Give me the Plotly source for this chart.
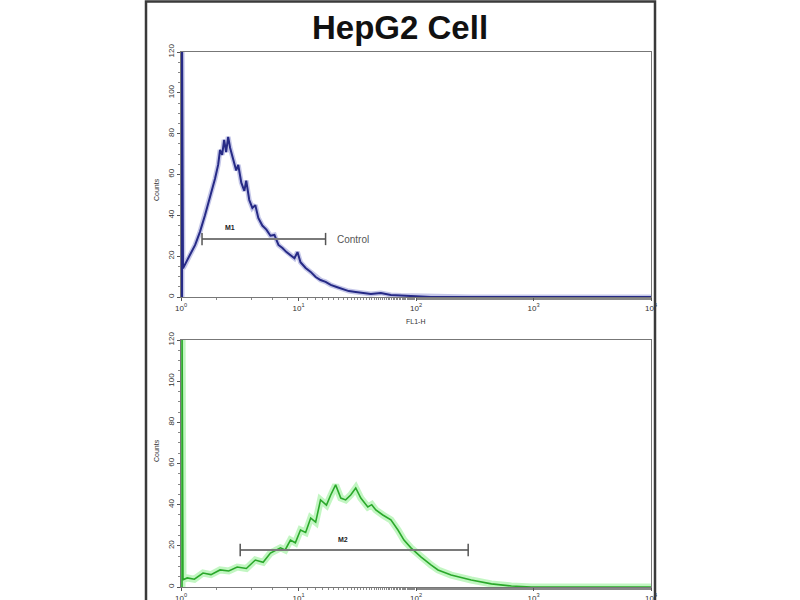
import math
import plotly.graph_objects as go

# ---------------- data ----------------
title_text = "HepG2 Cell"

# Control (top, blue) histogram: FL1-H intensity vs counts
top_x = [1.02, 1.02, 1.04, 1.08, 1.19, 1.32, 1.45, 1.60, 1.77, 1.95, 2.07, 2.15, 2.24, 2.33, 2.42,
         2.52, 2.62, 2.78, 2.95, 3.07, 3.26, 3.46, 3.59, 3.81, 4.05, 4.29, 4.55, 4.92,
         5.33, 5.77, 6.24, 6.75, 7.30, 7.90, 8.54, 9.24, 9.80, 10.4, 11.5, 12.7, 14.0,
         15.4, 17.0, 18.8, 21.1, 23.8, 26.8, 30.7, 35.2, 41.3, 50.2, 61.1, 74.4, 100,
         134, 295, 1426, 10000]
top_counts = [0, 130, 14, 15.7, 20.6, 25.5, 31.9, 40, 49, 58, 64.7, 72, 69.6, 77, 71,
              78.4, 73, 67, 62, 64.7, 56, 52, 57, 47.5, 43.6, 45, 38.7, 35,
              33, 30, 30.4, 25.5, 24, 22, 20.6, 19, 22, 17, 14.2, 12.3, 9.8,
              8.3, 7.4, 5.9, 4.9, 3.9, 2.9, 2.5, 2.0, 1.5, 2.0, 1.0, 0.7, 0.5,
              0, 0, 0, 0]

# Stained (bottom, green) histogram
bottom_x = [1.02, 1.02, 1.04, 1.13, 1.30, 1.54, 1.80, 2.15, 2.55, 3.01, 3.60, 4.29, 5.00, 5.77,
            7.02, 7.70, 8.54, 9.40, 10.4, 11.5, 12.7, 14.0, 15.4, 17.3, 18.8, 20.7, 22.9,
            25.2, 27.8, 30.7, 33.9, 38.9, 42.0, 45.5, 52.2, 61.1, 70.2, 79.0, 90.6,
            110, 134, 154, 199, 295, 438, 649, 961, 10000]
bottom_counts = [0, 130, 3.5, 4.4, 3.8, 6.8, 6.0, 8.3, 7.8, 9.7, 9.0, 13.1, 12.0, 16.5,
                 19, 18, 22.8, 21.5, 27.7, 26.5, 33.5, 31.5, 42.3, 39.8, 44.7, 49.6, 43.2,
                 42.3, 44.7, 48.1, 43.2, 38.9, 40.0, 37.4, 35, 32.6, 27.7, 22.8, 19,
                 14.6, 10.7, 8.3, 5.8, 3.4, 1.5, 0.5, 0, 0]

# Marker gates
m1_range = [1.51, 17.0]
m1_level = 28.4
m2_range = [3.19, 278]
m2_level = 18.0

y_ticks = [0, 20, 40, 60, 80, 100, 120]
x_ticks = [1, 10, 100, 1000, 10000]
x_ticktext = ["10<sup>0</sup>", "10<sup>1</sup>", "10<sup>2</sup>", "10<sup>3</sup>", "10<sup>4</sup>"]

# ---------------- figure ----------------
fig = go.Figure()

fig.add_trace(go.Scatter(x=top_x, y=top_counts, mode="lines", xaxis="x", yaxis="y",
                         line=dict(color="rgba(90,95,190,0.35)", width=5), hoverinfo="skip",
                         showlegend=False))
fig.add_trace(go.Scatter(x=top_x, y=top_counts, mode="lines", xaxis="x", yaxis="y",
                         line=dict(color="#262a86", width=2), showlegend=False))

fig.add_trace(go.Scatter(x=bottom_x, y=bottom_counts, mode="lines", xaxis="x2", yaxis="y2",
                         line=dict(color="rgba(120,235,120,0.45)", width=7), hoverinfo="skip",
                         showlegend=False))
fig.add_trace(go.Scatter(x=bottom_x, y=bottom_counts, mode="lines", xaxis="x2", yaxis="y2",
                         line=dict(color="#2aa82a", width=1.6), showlegend=False))

x_dom = [181 / 800, 651 / 800]
top_dom = [1 - 297 / 600, 1 - 52 / 600]
bot_dom = [1 - 587 / 600, 1 - 340 / 600]

axis_common = dict(showgrid=False, zeroline=False, showline=True, linecolor="#777777",
                   linewidth=1, mirror=True, ticks="outside", tickcolor="#555555",
                   ticklen=3, automargin=False,
                   tickfont=dict(family="Liberation Sans", size=8, color="#333333"))

xaxis_kw = dict(type="log", range=[0, 4], tickvals=x_ticks, ticktext=x_ticktext,
                domain=x_dom,
                minor=dict(ticks="outside", ticklen=2, tickcolor="#888888", showgrid=False),
                **axis_common)
yaxis_kw = dict(range=[0, 120], tickvals=y_ticks, tickangle=-90,
                minor=dict(ticks="outside", ticklen=2, tickcolor="#888888", dtick=5,
                           showgrid=False),
                **axis_common)

fig.update_layout(
    template="none",
    width=800, height=600,
    margin=dict(l=0, r=0, t=0, b=0, autoexpand=False),
    paper_bgcolor="white", plot_bgcolor="white",
    showlegend=False,
    xaxis=dict(anchor="y", **xaxis_kw),
    yaxis=dict(domain=top_dom, anchor="x", **yaxis_kw),
    xaxis2=dict(anchor="y2", **xaxis_kw),
    yaxis2=dict(domain=bot_dom, anchor="x2", **yaxis_kw),
)

shapes = []
shapes.append(dict(type="rect", xref="paper", yref="paper", x0=146 / 800, x1=655 / 800,
                   y0=-0.02, y1=1 - 1.5 / 600, line=dict(color="#3a3a3a", width=2.5)))

def gate(xr, level, xref, yref):
    out = [dict(type="line", xref=xref, yref=yref, x0=xr[0], x1=xr[1], y0=level, y1=level,
                line=dict(color="#7a7a7a", width=2))]
    for xv in xr:
        out.append(dict(type="line", xref=xref, yref=yref, x0=xv, x1=xv,
                        y0=level - 3, y1=level + 3, line=dict(color="#555555", width=1.5)))
    return out

shapes += gate(m1_range, m1_level, "x", "y")
shapes += gate(m2_range, m2_level, "x2", "y2")
fig.update_layout(shapes=shapes)

# annotation x on log axes is given in log10 units
annotations = [
    dict(text="<b>" + title_text + "</b>", xref="paper", yref="paper", x=0.5, y=1 - 27 / 600,
         showarrow=False, font=dict(family="Liberation Sans", size=33, color="#111111"),
         xanchor="center", yanchor="middle"),
    dict(text="<b>M1</b>", xref="x", yref="y", x=math.log10(2.6), y=m1_level + 5.5,
         showarrow=False, font=dict(family="Liberation Sans", size=7, color="#222222")),
    dict(text="Control", xref="x", yref="y", x=math.log10(m1_range[1]) + 0.08, y=m1_level,
         xanchor="left", showarrow=False,
         font=dict(family="Liberation Sans", size=10, color="#555555")),
    dict(text="<b>M2</b>", xref="x2", yref="y2", x=math.log10(23.7), y=m2_level + 5,
         showarrow=False, font=dict(family="Liberation Sans", size=7, color="#222222")),
    dict(text="FL1-H", xref="paper", yref="paper", x=415 / 800, y=1 - 321 / 600,
         showarrow=False, font=dict(family="Liberation Sans", size=7, color="#333333")),
    dict(text="Counts", xref="paper", yref="paper", x=151 / 800, y=1 - 176 / 600,
         textangle=-90, showarrow=False,
         font=dict(family="Liberation Sans", size=7, color="#333333")),
    dict(text="Counts", xref="paper", yref="paper", x=151 / 800, y=1 - 464 / 600,
         textangle=-90, showarrow=False,
         font=dict(family="Liberation Sans", size=7, color="#333333")),
]
fig.update_layout(annotations=annotations)

fig.write_html("out.html", config={"displayModeBar": False},
               post_script="document.body.style.margin='0px';document.body.style.overflow='hidden';")
